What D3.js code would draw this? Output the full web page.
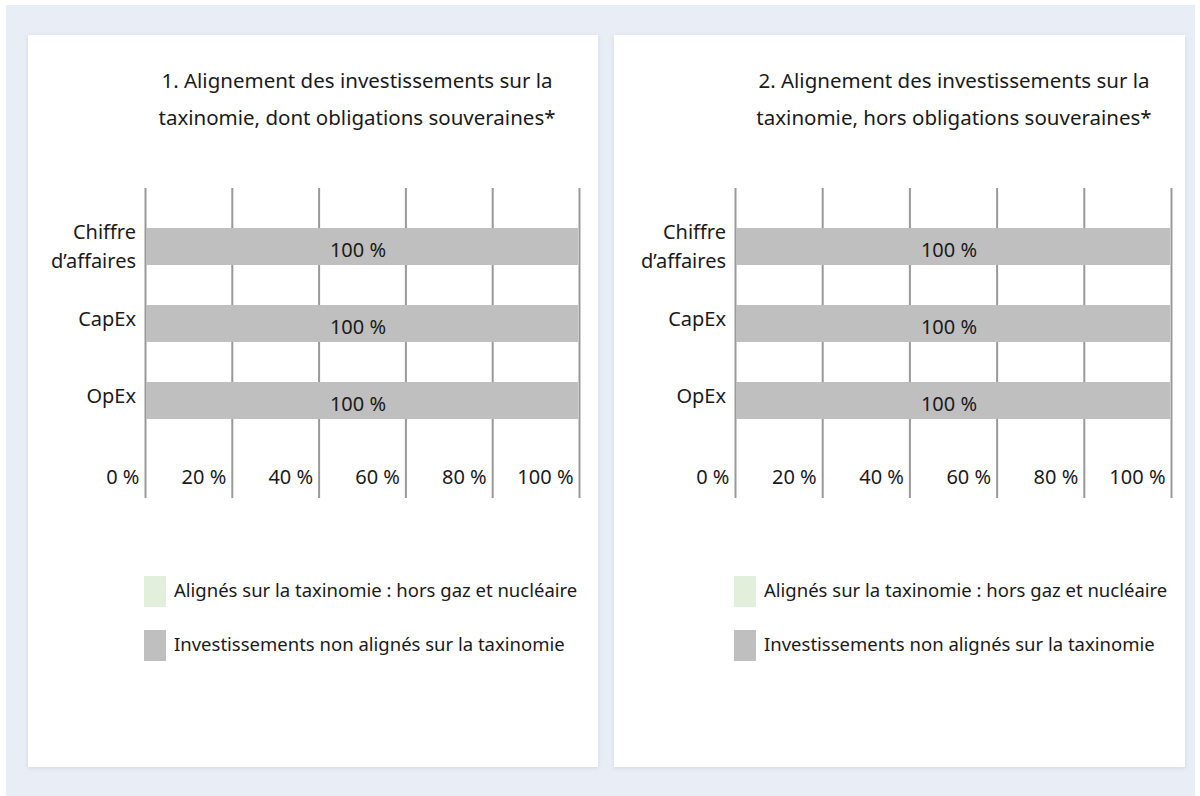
<!DOCTYPE html>
<html>
<head>
<meta charset="utf-8">
<script src="https://cdn.jsdelivr.net/npm/d3@7"></script>
<style>
  body { margin: 0; background: #fff; }
  svg { display: block; font-family: "Noto Sans", "Open Sans", sans-serif; }
</style>
</head>
<body>
<script>
// data
var categories = ["Chiffre d’affaires", "CapEx", "OpEx"]
var categoryLines = [["Chiffre", "d’affaires"], ["CapEx"], ["OpEx"]]
var aligned1 = [0, 0, 0]
var nonAligned1 = [100, 100, 100]
var aligned2 = [0, 0, 0]
var nonAligned2 = [100, 100, 100]
var tickValues = [0, 20, 40, 60, 80, 100]
var titles = [
  ["1. Alignement des investissements sur la", "taxinomie, dont obligations souveraines*"],
  ["2. Alignement des investissements sur la", "taxinomie, hors obligations souveraines*"]
]
var legendLabels = ["Alignés sur la taxinomie : hors gaz et nucléaire", "Investissements non alignés sur la taxinomie"]
var colors = ["#e2efda", "#bfbfbf"]

var svg = d3.select("body")
  .append("svg")
  .attr("width", 1200)
  .attr("height", 796)

var defs = svg.append("defs")
defs.append("filter").attr("id", "shadow")
  .attr("x", "-5%").attr("y", "-5%").attr("width", "110%").attr("height", "110%")
  .append("feDropShadow")
  .attr("dx", 0).attr("dy", 1).attr("stdDeviation", 2)
  .attr("flood-color", "#9aa6c4").attr("flood-opacity", 0.35)

svg.append("rect")
  .attr("x", 6).attr("y", 5)
  .attr("width", 1189).attr("height", 791)
  .attr("fill", "#e9edf6")

function drawPanel(cfg) {
  var g = svg.append("g")

  g.append("rect")
    .attr("x", cfg.px).attr("y", 35)
    .attr("width", cfg.pw).attr("height", 732)
    .attr("fill", "#fff")
    .attr("filter", "url(#shadow)")

  var xScale = d3.scaleLinear()
    .domain([0, 100])
    .range([cfg.x0, cfg.x1])

  var yScale = d3.scaleBand()
    .domain(categories)
    .range([208, 439])
    .paddingInner(0.52)
    .paddingOuter(0.26)

  // title
  g.append("text")
    .attr("x", cfg.tx)
    .attr("y", 88)
    .attr("text-anchor", "middle")
    .attr("font-size", 20.5)
    .attr("fill", "#1a1a1a")
    .selectAll("tspan")
    .data(cfg.title)
    .enter()
    .append("tspan")
    .attr("x", cfg.tx)
    .attr("dy", function(d, i) { return i == 0 ? 0 : 37 })
    .text(function(d) { return d })

  // grid lines + tick labels
  var xAxis = d3.axisBottom(xScale)
    .tickValues(tickValues)
    .tickSize(310)
    .tickFormat(function(d) { return d + " %" })

  var ax = g.append("g")
    .attr("transform", "translate(0,188)")
    .call(xAxis)
  ax.select(".domain").remove()
  ax.selectAll(".tick line")
    .attr("stroke", "#999999")
    .attr("stroke-width", 2)
  ax.selectAll(".tick text")
    .attr("y", 296)
    .attr("dy", 0)
    .attr("x", -6)
    .attr("text-anchor", "end")
    .attr("font-size", 20)
    .attr("fill", "#1a1a1a")
    .attr("font-family", "Noto Sans")

  var rows = categories.map(function(c, i) {
    return { cat: c, aligned: cfg.aligned[i], non: cfg.non[i] }
  })

  // stacked bars
  g.selectAll(".al")
    .data(rows)
    .enter()
    .append("rect")
    .attr("x", function(d) { return xScale(0) })
    .attr("y", function(d) { return yScale(d.cat) })
    .attr("width", function(d) { return xScale(d.aligned) - xScale(0) })
    .attr("height", yScale.bandwidth())
    .attr("fill", colors[0])

  g.selectAll(".na")
    .data(rows)
    .enter()
    .append("rect")
    .attr("x", function(d) { return xScale(d.aligned) + 1 })
    .attr("y", function(d) { return yScale(d.cat) })
    .attr("width", function(d) { return xScale(d.aligned + d.non) - xScale(d.aligned) - 2 })
    .attr("height", yScale.bandwidth())
    .attr("fill", colors[1])

  g.selectAll(".lbl")
    .data(rows)
    .enter()
    .append("text")
    .attr("x", function(d) { return xScale(d.aligned + d.non / 2) - 4 })
    .attr("y", function(d) { return yScale(d.cat) + yScale.bandwidth() / 2 + 10 })
    .attr("text-anchor", "middle")
    .attr("font-size", 20)
    .attr("fill", "#1a1a1a")
    .text(function(d) { return d.non + " %" })

  // category labels
  g.selectAll(".cat")
    .data(categoryLines)
    .enter()
    .append("text")
    .attr("text-anchor", "end")
    .attr("font-size", 20)
    .attr("fill", "#1a1a1a")
    .each(function(lines, i) {
      var cy = yScale(categories[i]) + yScale.bandwidth() / 2
      var start = lines.length == 1 ? cy + 2 : cy - 7.5
      d3.select(this).selectAll("tspan")
        .data(lines)
        .enter()
        .append("tspan")
        .attr("x", cfg.x0 - 9)
        .attr("y", function(d, j) { return start + j * 29 })
        .text(function(d) { return d })
    })

  // legend
  var lg = g.selectAll(".leg")
    .data(legendLabels)
    .enter()
    .append("g")
    .attr("transform", function(d, i) { return "translate(" + (cfg.x0 - 1) + "," + (576 + i * 54) + ")" })
  lg.append("rect")
    .attr("width", 22).attr("height", 31)
    .attr("fill", function(d, i) { return colors[i] })
  lg.append("text")
    .attr("x", 30)
    .attr("y", 21)
    .attr("font-size", 18.5)
    .attr("fill", "#1a1a1a")
    .text(function(d) { return d })
}

drawPanel({ px: 28, pw: 570, x0: 145, x1: 579, tx: 357, title: titles[0], aligned: aligned1, non: nonAligned1 })
drawPanel({ px: 614, pw: 571, x0: 735, x1: 1171, tx: 954, title: titles[1], aligned: aligned2, non: nonAligned2 })
</script>
</body>
</html>
